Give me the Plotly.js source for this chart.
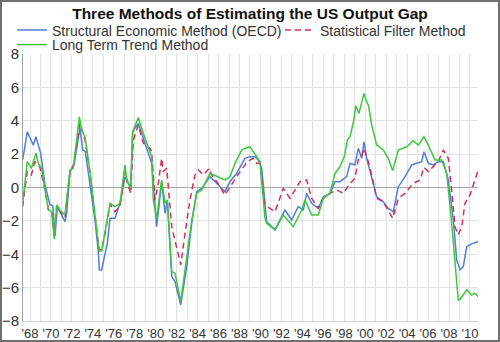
<!DOCTYPE html>
<html>
<head>
<meta charset="utf-8">
<script src="https://cdn.plot.ly/plotly-3.0.1.min.js"></script>
<style>
html,body{margin:0;padding:0;background:#fff;}
#chart{width:500px;height:342px;box-sizing:border-box;border:2px solid #707070;}
</style>
</head>
<body>
<div id="chart"></div>
<script>
// Structural Economic Method (OECD)
const structYears = [1967.30,1967.74,1968.32,1968.57,1969.02,1969.43,1969.91,1970.17,1970.39,1970.61,1970.86,1971.34,1971.50,1971.82,1972.20,1972.77,1973.03,1973.28,1973.73,1974.20,1974.52,1974.62,1974.84,1975.38,1975.64,1976.11,1976.59,1977.07,1977.29,1977.61,1977.80,1978.34,1978.82,1979.62,1980.09,1980.57,1980.89,1981.11,1981.53,1981.84,1982.39,1982.96,1983.44,1983.91,1984.39,1985.18,1985.82,1986.61,1987.09,1987.73,1988.52,1989.00,1989.48,1989.79,1990.12,1990.43,1990.59,1991.39,1992.34,1992.98,1993.61,1994.09,1994.41,1994.89,1995.52,1996.00,1996.64,1997.11,1997.59,1998.23,1998.55,1999.02,1999.34,1999.66,1999.88,2000.14,2000.62,2001.09,2001.72,2002.20,2002.68,2003.16,2003.80,2004.44,2004.91,2005.39,2005.61,2006.02,2006.50,2006.97,2007.45,2007.93,2008.41,2008.73,2009.05,2009.36,2009.69,2010.16,2010.79];
const structValues = [1.65,3.34,2.54,3.04,2.05,0.15,-1.05,-1.07,-2.9,-1.15,-1.45,-2.05,-1.53,0.95,1.35,3.54,2.25,2.15,0.15,-1.95,-3.84,-4.94,-4.94,-3.34,-1.85,-1.85,-0.95,0.65,0.45,-0.1,3.34,3.84,2.94,1.45,-2.35,0.35,-1.55,-0.75,-5.34,-5.64,-7.04,-4.74,-2.14,-0.25,-0.05,0.65,0.25,-0.25,0.35,0.85,1.75,1.85,1.85,1.65,1.15,-0.75,-2.05,-2.54,-1.35,-1.95,-1.15,-1.35,-0.35,-0.95,-1.25,-0.55,-0.35,0.35,0.35,0.65,1.45,1.35,2.35,1.75,2.74,1.75,0.65,-0.55,-0.85,-1.25,-1.45,0.05,0.65,1.35,1.45,1.55,2.14,1.45,1.35,1.55,1.55,0.45,-1.95,-4.34,-4.94,-4.74,-3.54,-3.38,-3.24];

// Statistical Filter Method
const filterYears = [1967.30,1967.74,1968.13,1968.45,1968.93,1969.43,1969.75,1970.07,1970.32,1970.55,1970.86,1971.34,1971.82,1972.13,1972.77,1973.25,1973.73,1974.20,1974.59,1974.84,1975.16,1975.64,1976.11,1976.59,1977.07,1977.23,1977.61,1977.86,1978.34,1978.82,1979.45,1979.62,1979.93,1980.25,1980.57,1980.72,1981.05,1981.53,1982.00,1982.39,1982.80,1983.27,1983.75,1984.07,1984.54,1985.12,1985.34,1985.82,1986.61,1987.09,1987.73,1988.52,1988.69,1989.32,1989.64,1989.95,1990.43,1990.91,1991.39,1992.18,1992.82,1993.77,1994.41,1994.89,1995.52,1996.00,1996.64,1997.28,1997.91,1998.55,1999.02,1999.34,1999.66,1999.88,2000.29,2000.62,2001.09,2001.72,2002.20,2002.62,2003.16,2003.80,2004.59,2005.23,2005.61,2006.02,2006.34,2006.97,2007.45,2007.93,2008.25,2008.57,2008.88,2009.21,2009.52,2010.00,2010.48,2010.79];
const filterValues = [-1.15,0.95,0.75,1.55,1.25,-0.15,-1.3,-1.4,-2.9,-1.05,-1.4,-1.8,1.0,1.3,3.84,2.84,0.9,-1.6,-3.7,-3.75,-2.8,-1.0,-1.45,-1.15,0.95,0.4,-0.35,2.84,3.74,2.65,2.35,2.14,-0.75,0.25,1.75,0.95,1.15,-2.35,-3.54,-4.64,-2.74,-0.75,0.75,1.05,0.75,1.15,0.75,0.35,-0.45,0.05,0.65,1.35,1.55,1.75,1.45,1.45,-1.05,-1.25,-1.45,-0.05,-0.65,0.35,0.45,-0.65,-1.25,-0.65,-0.35,-0.15,-0.35,0.25,0.55,1.65,1.85,2.35,1.55,0.75,-0.65,-0.85,-1.35,-1.85,-0.65,-0.35,0.25,0.45,1.21,0.95,1.15,1.55,2.25,1.75,-0.15,-2.35,-2.84,-2.35,-0.95,-0.45,0.45,1.05];

// Long Term Trend Method
const trendYears = [1967.30,1967.74,1968.13,1968.57,1968.79,1969.11,1969.43,1969.75,1970.07,1970.32,1970.55,1970.86,1971.34,1971.82,1972.13,1972.71,1972.94,1973.25,1973.73,1974.20,1974.59,1974.84,1975.16,1975.64,1976.11,1976.59,1977.07,1977.23,1977.61,1977.80,1978.34,1978.82,1979.62,1979.77,1980.09,1980.57,1980.89,1981.11,1981.53,1981.84,1982.39,1982.96,1983.44,1983.91,1984.39,1985.18,1985.82,1986.61,1987.09,1987.57,1988.21,1988.52,1989.00,1989.32,1989.95,1990.43,1990.59,1991.39,1992.18,1993.13,1993.94,1994.25,1994.89,1995.52,1996.00,1996.64,1997.11,1997.59,1998.00,1998.30,1998.55,1998.90,1999.10,1999.40,1999.88,2000.10,2000.30,2000.62,2001.09,2001.72,2002.20,2002.62,2003.16,2003.96,2004.59,2005.07,2005.61,2006.02,2006.66,2007.30,2007.78,2008.25,2008.88,2009.05,2009.69,2010.16,2010.48,2010.79];
const trendValues = [-0.95,1.55,1.15,2.05,1.45,1.15,-0.15,-1.35,-1.45,-3.1,-1.05,-1.35,-1.65,1.05,1.15,4.24,3.44,3.04,0.95,-1.55,-3.8,-3.8,-2.74,-0.95,-1.15,-0.95,1.35,0.45,-0.05,3.34,4.2,3.24,1.85,-0.75,-1.85,0.45,-0.95,-0.75,-5.04,-5.14,-6.84,-4.34,-1.95,-0.35,-0.15,0.85,0.65,0.45,0.65,1.45,2.25,2.35,2.44,2.14,1.55,-1.85,-2.14,-2.54,-1.65,-2.35,-1.35,-0.75,-1.65,-1.65,-0.65,-0.35,0.85,1.25,1.85,2.84,3.04,4.0,4.9,4.44,5.64,5.2,4.94,3.74,2.55,2.25,1.75,1.01,2.25,2.44,2.8,2.54,3.04,2.54,1.65,1.65,0.85,-2.14,-6.74,-6.7,-6.14,-6.44,-6.34,-6.54];

const yTicks = [-8,-6,-4,-2,0,2,4,6,8];
const yearTicks = [];
const yearLabels = [];
for (let y = 1968; y <= 2010; y++) {
  yearTicks.push(y);
  yearLabels.push(y % 2 === 0 ? "'" + String(y).slice(2) : "");
}

const traces = [
  {name: 'Structural Economic Method (OECD)', x: structYears, y: structValues, type: 'scatter', mode: 'lines',
   line: {color: '#4f7fd6', width: 1.5}, legend: 'legend'},
  {name: 'Statistical Filter Method', x: filterYears, y: filterValues, type: 'scatter', mode: 'lines',
   line: {color: '#d1305f', width: 1.5, dash: '6px,4px'}, legend: 'legend2'},
  {name: 'Long Term Trend Method', x: trendYears, y: trendValues, type: 'scatter', mode: 'lines',
   line: {color: '#3cc83c', width: 1.5}, legend: 'legend3'}
];

const legendCommon = {orientation: 'h', xref: 'container', yref: 'container', xanchor: 'left', yanchor: 'middle',
  font: {size: 14, color: '#333333'}, bgcolor: 'rgba(0,0,0,0)', itemwidth: 30, borderwidth: 0};

const layout = {
  width: 496, height: 338,
  margin: {l: 21, r: 20, t: 52, b: 19, autoexpand: false},
  paper_bgcolor: '#ffffff', plot_bgcolor: '#ffffff',
  font: {family: '"Liberation Sans", Arial, sans-serif', color: '#333333', size: 13},
  title: {text: 'Three Methods of Estimating the US Output Gap', font: {size: 15.5, weight: 'bold', color: '#111111'},
          x: 0.5, xanchor: 'center', y: 0.967, yanchor: 'middle', yref: 'container', automargin: false},
  showlegend: true,
  legend: Object.assign({}, legendCommon, {x: 10 / 496, y: 1 - 28.5 / 338}),
  legend2: Object.assign({}, legendCommon, {x: 278 / 496, y: 1 - 28.5 / 338}),
  legend3: Object.assign({}, legendCommon, {x: 10 / 496, y: 1 - 43 / 338}),
  xaxis: {range: [1967.332, 2010.765], tickmode: 'array', tickvals: yearTicks, ticktext: yearLabels,
          showgrid: true, gridcolor: '#e2e2e2', gridwidth: 1, zeroline: false,
          showline: true, linecolor: '#d0d0d0', linewidth: 1, ticks: '',
          tickfont: {size: 13, color: '#333333'}, fixedrange: true, automargin: false},
  yaxis: {range: [-8, 8], tickmode: 'array', tickvals: yTicks,
          showgrid: true, gridcolor: '#e2e2e2', gridwidth: 1,
          zeroline: true, zerolinecolor: '#a8a8a8', zerolinewidth: 1.5,
          showline: true, linecolor: '#a0a0a0', linewidth: 1, ticks: '',
          tickfont: {size: 15, color: '#333333'}, fixedrange: true, automargin: false}
};

Plotly.newPlot('chart', traces, layout, {displayModeBar: false, staticPlot: true});
</script>
</body>
</html>
